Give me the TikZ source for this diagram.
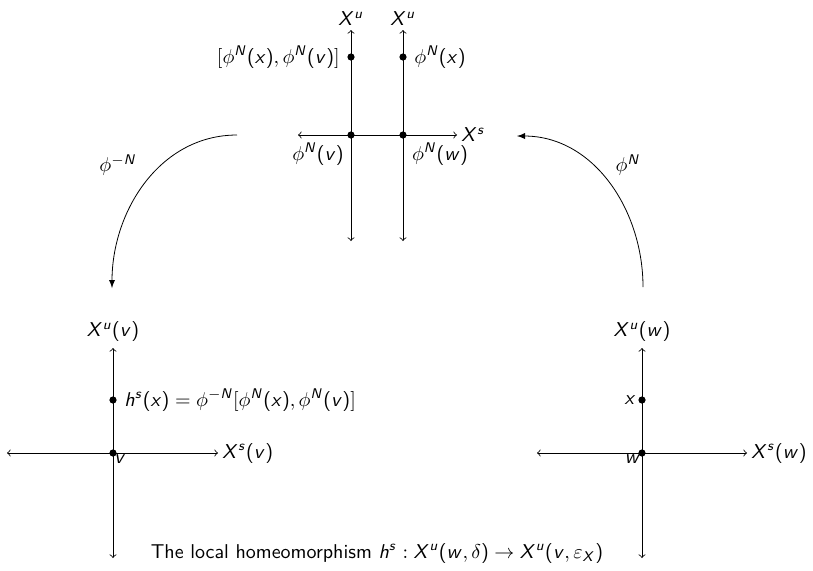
\documentclass[tikz,border=0pt]{standalone}
\usepackage{amsmath}
\usepackage{tikz}
\usetikzlibrary{arrows, positioning}

% sans serif slanted letters in math
\DeclareSymbolFont{sfletters}{OT1}{cmss}{m}{sl}
\newcommand{\sfletter}[1]{\DeclareMathSymbol{#1}{\mathalpha}{sfletters}{`#1}}
\sfletter{X}\sfletter{N}\sfletter{u}\sfletter{s}\sfletter{v}
\sfletter{w}\sfletter{x}\sfletter{h}
\DeclareSymbolFont{sfdigits}{OT1}{cmss}{m}{n}
\DeclareMathSymbol{(}{\mathopen}{sfdigits}{`(}
\DeclareMathSymbol{)}{\mathclose}{sfdigits}{`)}

\tikzset{
  dot/.style={circle, fill=black, inner sep=0pt, minimum size=3.6pt},
  axis/.style={<->},
  lbl/.style={inner sep=5.5pt}
}

\begin{document}
\begin{tikzpicture}[x=0.5pt, y=-0.5pt, font=\sffamily]
\useasboundingbox (0,0) rectangle (813,570);

% top picture: after applying phi^N
\coordinate (uaT) at (351,30);  \coordinate (uaB) at (351,241);
\coordinate (ubT) at (403,30);  \coordinate (ubB) at (403,241);
\coordinate (sW) at (298,135);  \coordinate (sE) at (457,135);
\draw[axis] (uaB) -- (uaT);
\draw[axis] (ubB) -- (ubT);
\draw[axis] (sW) -- (sE);
\node[dot] (pbr) at (351,57) {};
\node[dot] (px) at (403,57) {};
\node[dot] (pv) at (351,135) {};
\node[dot] (pw) at (403,135) {};
\node[above, inner sep=2pt] (lua) at (uaT) {$X^u$};
\node[above, inner sep=2pt] (lub) at (ubT) {$X^u$};
\node[right, inner sep=2pt] (ls) at (sE) {$X^s$};
\node[left, lbl] at (pbr) {$[\phi^N(x),\phi^N(v)]$};
\node[right, lbl] at (px) {$\phi^N(x)$};
\node at (318,154) {$\phi^N(v)$};
\node at (440,154) {$\phi^N(w)$};

% bottom left: X^u(v), X^s(v)
\coordinate (vT) at (113,348);  \coordinate (vB) at (113,558);
\coordinate (vW) at (7,453);    \coordinate (vE) at (218,453);
\draw[axis] (vB) -- (vT);
\draw[axis] (vW) -- (vE);
\node[dot] (hx) at (113,400) {};
\node[dot] (v) at (113,453) {};
\node[above, inner sep=3pt] at (vT) {$X^u(v)$};
\node[right, inner sep=2pt] at (vE) {$X^s(v)$};
\node[right, lbl] at (hx) {$h^s(x)=\phi^{-N}[\phi^N(x),\phi^N(v)]$};
\node[below right, inner sep=0.5pt] at (v) {$v$};

% bottom right: X^u(w), X^s(w)
\coordinate (wT) at (642,348);  \coordinate (wB) at (642,558);
\coordinate (wW) at (537,453);  \coordinate (wE) at (747,453);
\draw[axis] (wB) -- (wT);
\draw[axis] (wW) -- (wE);
\node[dot] (x) at (642,400) {};
\node[dot] (w) at (642,453) {};
\node[above, inner sep=3pt] at (wT) {$X^u(w)$};
\node[right, inner sep=2pt] at (wE) {$X^s(w)$};
\node[left, inner sep=3pt] at (x) {$x$};
\node[below left, inner sep=0.5pt] at (w) {$w$};

% the maps
\coordinate (fromtop) at (237,135);  \coordinate (toleft) at (112,288);
\coordinate (fromright) at (643,287); \coordinate (totop) at (517,136);
\draw[-latex] (fromtop) to[out=180, in=90] (toleft);
\draw[-latex] (fromright) to[out=90, in=0] (totop);
\node at (118,165) {$\phi^{-N}$};
\node at (628,165) {$\phi^{N}$};

\node (caption) at (377,553) {The local homeomorphism $h^s : X^u(w,\delta) \to X^u(v,\varepsilon_X)$};
\end{tikzpicture}
\end{document}
